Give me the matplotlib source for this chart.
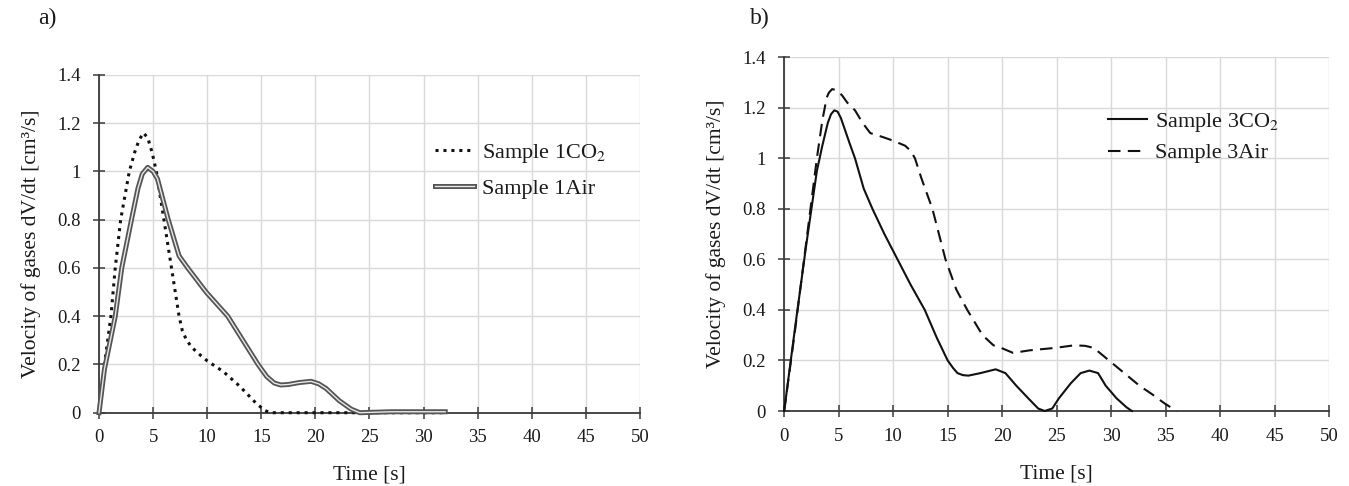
"""
plot.py

Velocity of gases dV/dt vs time, two panels:
    a) Sample 1 (CO2 / Air)
    b) Sample 3 (CO2 / Air)
"""
import matplotlib
matplotlib.use("Agg")
import matplotlib.pyplot as plt
import matplotlib.patheffects as pe

plt.rcParams["font.family"] = ["Liberation Serif", "DejaVu Serif"]
plt.rcParams["mathtext.fontset"] = "stix"

TEXT = "#1a1a1a"
GRID = "#d9d9d9"
AXIS = "#3a3a3a"

X_TICKS = [0, 5, 10, 15, 20, 25, 30, 35, 40, 45, 50]
Y_TICKS = [0, 0.2, 0.4, 0.6, 0.8, 1.0, 1.2, 1.4]
Y_TICK_LABELS = ["0", "0.2", "0.4", "0.6", "0.8", "1", "1.2", "1.4"]

# ---------- panel a: sample 1 ----------
a_co2_t = [0, 0.5, 1.1, 1.5, 2.0, 2.8, 3.3, 3.7, 4.1, 4.5, 4.9, 5.3, 6.0,
           6.7, 7.4, 7.7, 8.1, 8.6, 9.2, 10.0, 11.5, 13.0, 14.5, 15.3, 15.8,
           20, 25, 32]
a_co2_v = [0, 0.2, 0.4, 0.6, 0.8, 1.0, 1.08, 1.13, 1.16, 1.14, 1.08, 1.0,
           0.8, 0.6, 0.4, 0.34, 0.3, 0.27, 0.245, 0.215, 0.17, 0.11, 0.04,
           0.01, 0, 0, 0, 0]

a_air_t = [0, 0.5, 1.5, 2.1, 3.0, 3.6, 4.0, 4.5, 5.0, 5.4, 6.4, 7.4, 8.2,
           9.9, 11.9, 13.3, 14.7, 15.5, 16.2, 16.8, 17.5, 18.5, 19.6, 20.3,
           21.0, 22.2, 23.3, 24.1, 27, 32]
a_air_v = [0, 0.18, 0.4, 0.6, 0.8, 0.93, 0.99, 1.017, 1.0, 0.97, 0.8, 0.65,
           0.6, 0.5, 0.4, 0.3, 0.2, 0.15, 0.123, 0.115, 0.117, 0.125, 0.13,
           0.12, 0.1, 0.05, 0.015, 0, 0.004, 0.004]

# ---------- panel b: sample 3 ----------
b_co2_t = [0, 1.0, 2.0, 3.0, 3.5, 4.0, 4.3, 4.6, 4.9, 5.2, 6.0, 6.5, 7.3,
           8.1, 9.2, 10.4, 11.6, 12.9, 14.0, 15.0, 15.5, 15.9, 16.4, 16.9,
           18.0, 19.4, 20.3, 21.3, 22.4, 23.3, 23.9, 24.6, 25.2, 26.3, 27.2,
           28.0, 28.8, 29.5, 30.5, 31.4, 31.9]
b_co2_v = [0, 0.33, 0.65, 0.95, 1.05, 1.14, 1.175, 1.19, 1.185, 1.16, 1.06,
           1.0, 0.88, 0.8, 0.7, 0.6, 0.5, 0.4, 0.29, 0.2, 0.17, 0.15, 0.142,
           0.14, 0.15, 0.165, 0.15, 0.1, 0.05, 0.01, 0, 0.01, 0.05, 0.11,
           0.15, 0.16, 0.15, 0.1, 0.05, 0.015, 0]

b_air_t = [0, 1.0, 2.0, 3.0, 3.5, 3.9, 4.1, 4.4, 4.8, 5.3, 5.8, 6.5, 7.2,
           7.9, 9.0, 10.0, 11.1, 11.6, 12.0, 12.6, 13.6, 14.8, 15.8, 16.8,
           18.2, 19.2, 19.9, 21.0, 22.5, 24.9, 26.6, 27.6, 28.4, 29.8, 31.2,
           32.6, 33.8, 34.9, 36.0]
b_air_v = [0, 0.32, 0.66, 1.0, 1.15, 1.24, 1.26, 1.274, 1.27, 1.25, 1.22,
           1.19, 1.14, 1.1, 1.085, 1.07, 1.05, 1.03, 1.0, 0.92, 0.8, 0.6,
           0.48, 0.4, 0.3, 0.26, 0.25, 0.23, 0.24, 0.25, 0.26, 0.258, 0.25,
           0.2, 0.15, 0.1, 0.065, 0.03, 0]


def style_axes(ax):
    ax.set_xlim(0, 50)
    ax.set_ylim(0, 1.4)
    ax.set_xticks(X_TICKS)
    ax.set_yticks(Y_TICKS)
    ax.set_yticklabels(Y_TICK_LABELS)
    ax.grid(True, color=GRID, linewidth=1.0, zorder=0)
    ax.set_axisbelow(True)
    for s in ("top", "right"):
        ax.spines[s].set_visible(False)
    for s in ("left", "bottom"):
        ax.spines[s].set_color(AXIS)
        ax.spines[s].set_linewidth(1.3)
    ax.tick_params(direction="inout", length=8, width=1.1, color=AXIS,
                   labelsize=13.5, labelcolor=TEXT)
    ax.tick_params(axis="x", pad=8)
    ax.tick_params(axis="y", pad=9)
    ax.set_xlabel("Time [s]", fontsize=15.5, color=TEXT, labelpad=14)
    ax.set_ylabel("Velocity of gases dV/dt [cm\u00b3/s]", fontsize=15.5,
                  color=TEXT, labelpad=12)


def main():
    fig = plt.figure(figsize=(13.49, 4.86), dpi=100)

    # a)
    ax_a = fig.add_axes([0.0734, 0.1508, 0.401, 0.6949])
    style_axes(ax_a)
    ax_a.plot(a_co2_t, a_co2_v, color="#111111", linestyle=(0, (1, 1.6)),
              linewidth=2.2, label="Sample 1CO$_2$", zorder=3, clip_on=False)
    ax_a.plot(a_air_t, a_air_v, color="#e8e8e8", linewidth=1.0,
              label="Sample 1Air", zorder=4, clip_on=False,
              path_effects=[pe.Stroke(linewidth=3.6, foreground="#555555"),
                            pe.Normal()])
    ax_a.legend(loc="upper left", bbox_to_anchor=(0.585, 0.86), frameon=False,
                fontsize=16, handlelength=1.75, handletextpad=0.35,
                labelspacing=0.6, labelcolor=TEXT)
    fig.text(0.028, 0.963, "a)", fontsize=17, color=TEXT, va="center")

    # b)
    ax_b = fig.add_axes([0.5813, 0.1543, 0.404, 0.7278])
    style_axes(ax_b)
    ax_b.plot(b_co2_t, b_co2_v, color="#111111", linewidth=1.5,
              label="Sample 3CO$_2$", zorder=3, clip_on=False)
    ax_b.plot(b_air_t, b_air_v, color="#111111", linewidth=1.5,
              linestyle=(0, (6, 3.5)), label="Sample 3Air", zorder=3,
              clip_on=False)
    ax_b.legend(loc="upper left", bbox_to_anchor=(0.558, 0.905), frameon=False,
                fontsize=16, handlelength=1.75, handletextpad=0.35,
                labelspacing=0.4, labelcolor=TEXT)
    fig.text(0.556, 0.963, "b)", fontsize=17, color=TEXT, va="center")

    fig.savefig("out.png", dpi=100)
    plt.close(fig)


if __name__ == "__main__":
    main()
